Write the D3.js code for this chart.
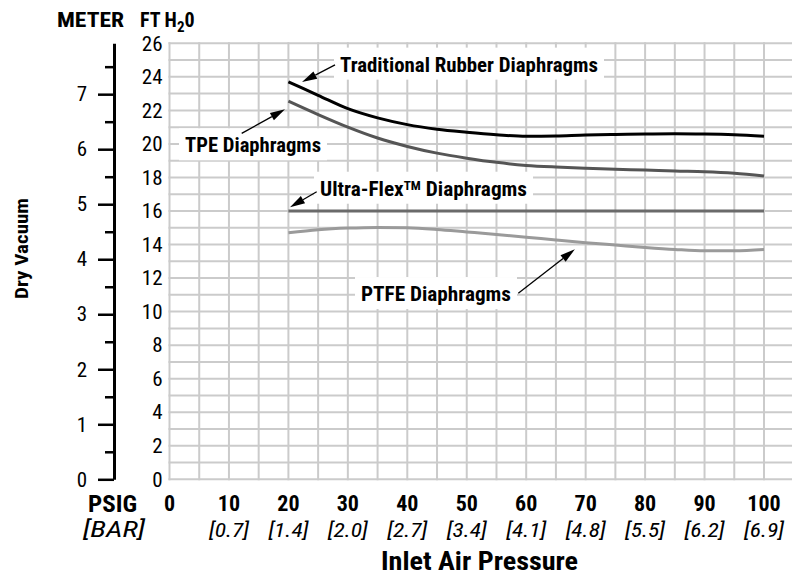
<!DOCTYPE html>
<html><head><meta charset="utf-8">
<script src="https://cdn.jsdelivr.net/npm/d3@7"></script>
<style>
html,body{margin:0;padding:0;background:#fff;}
svg{display:block;}
text{font-family:"Liberation Sans Narrow","Roboto Condensed","DejaVu Sans Condensed","Liberation Sans",sans-serif;fill:#000;}
</style></head>
<body><svg id="chart" width="792" height="580"></svg>
<script>
// ---- data ----
const psi = [20,25,30,35,40,45,50,55,60,65,70,75,80,85,90,95,100];
const traditional = [23.7,22.9,22.1,21.55,21.15,20.88,20.7,20.55,20.45,20.47,20.53,20.56,20.59,20.6,20.59,20.55,20.45];
const tpe = [22.55,21.75,21.0,20.35,19.85,19.45,19.15,18.9,18.72,18.62,18.55,18.49,18.44,18.38,18.34,18.25,18.09];
const ultraFlex = [16,16,16,16,16,16,16,16,16,16,16,16,16,16,16,16,16];
const ptfe = [14.7,14.88,14.98,15.02,15.0,14.9,14.75,14.6,14.44,14.27,14.11,13.97,13.83,13.71,13.63,13.63,13.71];
const ftTicks = [0,2,4,6,8,10,12,14,16,18,20,22,24,26];
const meterTicks = [0,1,2,3,4,5,6,7];
const meterMinor = [0.5,1.5,2.5,3.5,4.5,5.5,6.5,7.5];
const psiTicks = [0,10,20,30,40,50,60,70,80,90,100];
const barLabels = ["","[0.7]","[1.4]","[2.0]","[2.7]","[3.4]","[4.1]","[4.8]","[5.5]","[6.2]","[6.9]"];
const seriesNames = ["Traditional Rubber Diaphragms","TPE Diaphragms","Ultra-Flex|TM| Diaphragms","PTFE Diaphragms"];

// ---- layout ----
const svg = d3.select("#chart");
const x = d3.scaleLinear().domain([0,100]).range([169.5,764]);
const y = d3.scaleLinear().domain([0,26]).range([479.3,43.3]);
const FT_PER_M = 3.28084;
const yM = d3.scaleLinear().domain([0,26/FT_PER_M]).range([479.3,43.3]);

function txt(g, s, opt){
  const t = g.append("text").attr("x",opt.x).attr("y",opt.y)
    .attr("font-size",opt.size).attr("font-weight",opt.bold?"bold":"normal")
    .attr("font-style",opt.italic?"italic":"normal")
    .attr("text-anchor",opt.anchor||"start");
  const parts = s.split("|");
  if(parts.length===3){
    t.append("tspan").text(parts[0]);
    t.append("tspan").attr("dy",-6).attr("font-size",opt.size*0.62).text(parts[1]);
    t.append("tspan").attr("dy",6).text(parts[2]);
  } else t.text(s);
  if(opt.w){t.attr("textLength",opt.w).attr("lengthAdjust","spacingAndGlyphs");}
  return t;
}

// grid
const grid = svg.append("g").attr("stroke","#cbcbcb").attr("stroke-width",2);
grid.selectAll("line.v").data(d3.range(0,101,5)).join("line")
  .attr("x1",d=>x(d)).attr("x2",d=>x(d)).attr("y1",y(26)-1).attr("y2",y(0)+1);
grid.selectAll("line.h").data(d3.range(0,27,1)).join("line")
  .attr("x1",x(0)-1).attr("x2",792).attr("y1",d=>y(d)).attr("y2",d=>y(d));

// FT axis labels
const ftAxis = d3.axisLeft(y).tickValues(ftTicks).tickSize(0).tickPadding(7);
const gFt = svg.append("g").attr("transform",`translate(${x(0)},0)`).call(ftAxis);
gFt.select(".domain").remove();
gFt.selectAll("text").attr("font-size",21).attr("font-family",null).attr("fill","#000");

// Meter axis
const gM = svg.append("g").attr("transform","translate(114,0)")
  .call(d3.axisLeft(yM).tickValues(meterTicks).tickSize(16).tickPadding(11).tickSizeOuter(0));
gM.select(".domain").attr("stroke","#000").attr("stroke-width",3);
gM.selectAll(".tick line").attr("stroke","#000").attr("stroke-width",2.5);
gM.selectAll("text").attr("font-size",21).attr("font-family",null).attr("fill","#000");
const gM2 = svg.append("g").attr("transform","translate(114,0)")
  .call(d3.axisLeft(yM).tickValues(meterMinor).tickSize(9).tickFormat(""));
gM2.select(".domain").remove();
gM2.selectAll(".tick line").attr("stroke","#000").attr("stroke-width",2.5);

// headers
const head = svg.append("g");
txt(head,"METER",{x:57,y:26.7,size:20,bold:true,w:67});
const ft = head.append("text").attr("x",140).attr("y",26.7).attr("font-size",20).attr("font-weight","bold");
ft.append("tspan").text("FT H");
ft.append("tspan").attr("dy",5).attr("font-size",15).text("2");
ft.append("tspan").attr("dy",-5).text("0");

// annotation boxes & labels (positions in data units)
const annots = [
  {name:seriesNames[0], tx:28.68, ty:24.31, w:258, size:21, from:[27.84,24.71], to:[22.29,23.69]},
  {name:seriesNames[1], tx:2.61, ty:19.5, w:136, size:20, from:[12.14,20.63], to:[19.43,22.06]},
  {name:seriesNames[2], tx:25.32, ty:16.91, w:207, size:20, from:[24.76,17.15], to:[20.27,16.22]},
  {name:seriesNames[3], tx:32.21, ty:10.63, w:150, size:20, from:[58.67,11.09], to:[68.19,13.72]}
];
const gBox = svg.append("g");
annots.forEach(a=>{
  const bx = x(a.tx), by = y(a.ty);
  gBox.append("rect").attr("x",bx-6).attr("y",by-24).attr("width",a.w+12).attr("height",32).attr("fill","#fff");
});

// lines
const line = d3.line().x((d,i)=>x(psi[i])).y(d=>y(d)).curve(d3.curveMonotoneX);
const series = [
  {vals:ptfe, color:"#9a9a9a"},
  {vals:ultraFlex, color:"#6a6a6a"},
  {vals:tpe, color:"#555555"},
  {vals:traditional, color:"#000000"}
];
svg.append("g").selectAll("path").data(series).join("path")
  .attr("d",d=>line(d.vals)).attr("fill","none").attr("stroke",d=>d.color).attr("stroke-width",3);

// labels + arrows
const gA = svg.append("g");
annots.forEach(a=>{
  txt(gA,a.name,{x:x(a.tx),y:y(a.ty),size:a.size,bold:true,w:a.w});
  const x1=x(a.from[0]), y1=y(a.from[1]), x2=x(a.to[0]), y2=y(a.to[1]);
  const ang=Math.atan2(y2-y1,x2-x1), L=15, H=4.2;
  const bxp=x2-L*Math.cos(ang), byp=y2-L*Math.sin(ang);
  gA.append("line").attr("x1",x1).attr("y1",y1).attr("x2",bxp).attr("y2",byp).attr("stroke","#000").attr("stroke-width",1.3);
  const p=[[x2,y2],[bxp+H*Math.sin(ang),byp-H*Math.cos(ang)],[bxp-H*Math.sin(ang),byp+H*Math.cos(ang)]];
  gA.append("polygon").attr("points",p.map(q=>q.join(",")).join(" ")).attr("fill","#000");
});

// x axis labels
const gX = svg.append("g");
gX.selectAll("text.psi").data(psiTicks).join("text").attr("class","psi")
  .attr("x",d=>x(d)).attr("y",511).attr("text-anchor","middle")
  .attr("font-size",22).attr("font-weight","bold").text(d=>d);
gX.selectAll("text.bar").data(psiTicks.map((d,i)=>({v:d,l:barLabels[i]})).filter(d=>d.l)).join("text").attr("class","bar")
  .attr("x",d=>x(d.v)).attr("y",537).attr("text-anchor","middle")
  .attr("font-size",20).attr("font-style","italic")
  .attr("textLength",40).attr("lengthAdjust","spacingAndGlyphs").text(d=>d.l);
txt(gX,"PSIG",{x:88,y:512,size:24,bold:true,w:49});
txt(gX,"[BAR]",{x:83,y:537,size:21.5,italic:true,w:62});
txt(gX,"Inlet Air Pressure",{x:381,y:570,size:25.5,bold:true,w:197});

// y title
svg.append("text").attr("transform","translate(28,248.5) rotate(-90)")
  .attr("text-anchor","middle").attr("font-size",19).attr("font-weight","bold")
  .attr("textLength",101).attr("lengthAdjust","spacingAndGlyphs").text("Dry Vacuum");
</script></body></html>
